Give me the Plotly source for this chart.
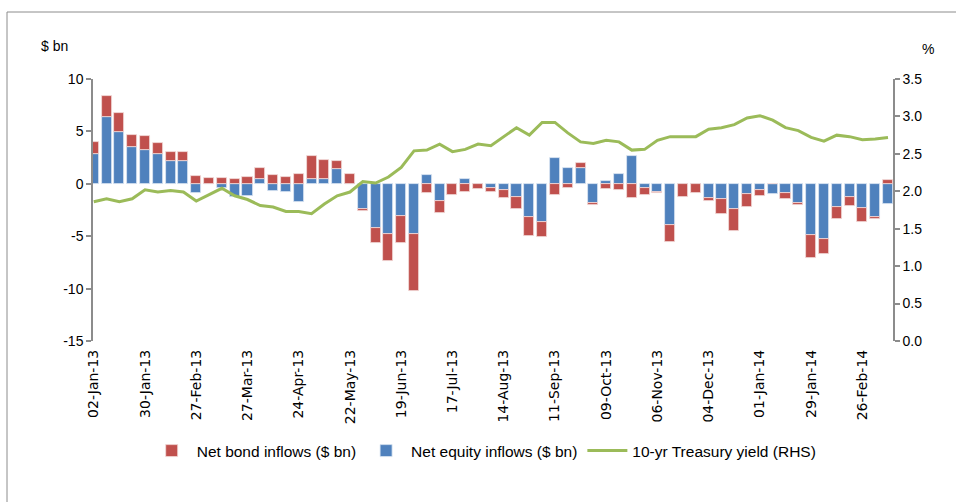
import pandas as pd
import plotly.graph_objects as go

weeks = pd.date_range("2013-01-02", periods=63, freq="7D")

equity = [2.8, 6.4, 4.9, 3.5, 3.2, 2.85, 2.15, 2.15, -0.9, 0.0,
          -0.42, -1.3, -1.15, 0.48, -0.67, -0.77, -1.76, 0.45, 0.42, 1.41,
          0.0, -2.45, -4.26, -4.8, -3.08, -4.8, 0.87, -1.6, 0.0, 0.45,
          0.0, -0.38, -0.58, -1.28, -3.14, -3.65, 2.47, 1.47, 1.47, -1.8,
          0.22, 0.96, 2.63, -0.42, -0.74, -3.97, 0.0, 0.0, -1.31, -1.44,
          -2.4, -0.93, -0.58, -0.99, -0.9, -1.86, -4.9, -5.29, -2.24, -1.28,
          -2.27, -3.14, -1.96]

bond = [1.15, 2.0, 1.83, 1.2, 1.37, 1.06, 0.93, 0.9, 0.7, 0.6,
        0.51, 0.42, 0.67, 0.99, 0.83, 0.67, 0.9, 2.18, 1.89, 0.8,
        0.96, -0.1, -1.38, -2.53, -2.56, -5.45, -0.9, -1.16, -1.06, -0.74,
        -0.51, -0.36, -0.73, -1.16, -1.86, -1.41, -1.06, -0.42, 0.52, -0.2,
        -0.51, -0.58, -1.31, -0.61, -0.09, -1.63, -1.22, -0.9, -0.32, -1.48,
        -2.15, -1.25, -0.57, 0.0, -0.54, -0.19, -2.18, -1.44, -1.13, -0.84,
        -1.38, -0.23, 0.38]

yield10 = [1.86, 1.90, 1.86, 1.90, 2.02, 1.99, 2.01, 1.99, 1.87, 1.96,
           2.04, 1.94, 1.89, 1.81, 1.79, 1.73, 1.73, 1.70, 1.83, 1.94,
           1.99, 2.13, 2.11, 2.19, 2.32, 2.54, 2.55, 2.63, 2.53, 2.56,
           2.63, 2.61, 2.73, 2.85, 2.75, 2.92, 2.92, 2.78, 2.66, 2.64,
           2.68, 2.66, 2.55, 2.56, 2.68, 2.73, 2.73, 2.73, 2.83, 2.85,
           2.89, 2.98, 3.01, 2.95, 2.85, 2.81, 2.72, 2.67, 2.75, 2.73,
           2.69, 2.70, 2.72]

left_ticks = [-15, -10, -5, 0, 5, 10]
left_labels = ["-15", "-10", "-5", "0", "5", "10"]
right_ticks = [0, 0.5, 1.0, 1.5, 2.0, 2.5, 3.0, 3.5]
right_labels = ["0.0", "0.5", "1.0", "1.5", "2.0", "2.5", "3.0", "3.5"]

RED = "#C0504D"
BLUE = "#4F81BD"
GREEN = "#9BBB59"
AXIS = "#8C8C8C"
NUMFONT = dict(family="Liberation Sans, Arial", size=14, color="#000000")
XFONT = dict(family="DejaVu Sans, Verdana", size=14, color="#000000")
LEGFONT = dict(family="Liberation Sans, Arial", size=15.5, color="#000000")

DAY = 86400000
xrange = ["2013-01-01 14:00", "2014-03-14 17:30"]

fig = go.Figure()
fig.add_trace(go.Bar(x=weeks, y=equity, name="Net equity inflows ($ bn)",
                     marker=dict(color=BLUE, line=dict(color="#DCE6F2", width=0.8)),
                     width=5.5 * DAY, legendrank=2))
fig.add_trace(go.Bar(x=weeks, y=bond, name="Net bond inflows ($ bn)",
                     marker=dict(color=RED, line=dict(color="#F2DCDB", width=0.8)),
                     width=5.5 * DAY, legendrank=1))
fig.add_trace(go.Scatter(x=weeks, y=yield10, name="10-yr Treasury yield (RHS)",
                         mode="lines", line=dict(color=GREEN, width=3),
                         yaxis="y2", legendrank=3))

fig.update_layout(
    width=956, height=502,
    margin=dict(l=93, r=63, t=79, b=161),
    paper_bgcolor="white", plot_bgcolor="white",
    barmode="relative", bargap=0,
    showlegend=True,
    legend=dict(orientation="h", x=0.489, xanchor="center", y=-0.42, yanchor="middle",
                font=LEGFONT, itemwidth=40, tracegroupgap=0),
    xaxis=dict(type="date", range=xrange, tick0="2013-01-02", dtick=28 * DAY,
               tickformat="%d-%b-%y", tickangle=-90, tickfont=XFONT,
               ticklabelstandoff=5,
               showgrid=False, showline=False, ticks="", zeroline=False),
    xaxis2=dict(type="date", range=xrange, overlaying="x", anchor="free", position=0.6,
                tick0="2013-01-02", dtick=7 * DAY, showticklabels=False,
                ticks="outside", ticklen=5, tickcolor=AXIS, tickwidth=1.5,
                showline=True, linecolor=AXIS, linewidth=1.5, showgrid=False,
                zeroline=False, layer="above traces"),
    yaxis=dict(range=[-15, 10], tickvals=left_ticks, ticktext=left_labels, tickfont=NUMFONT,
               showgrid=False, zeroline=False, showline=True, linecolor=AXIS, linewidth=1.5,
               ticks="outside", ticklen=5, tickcolor=AXIS, tickwidth=1.5),
    yaxis2=dict(range=[0, 3.5], tickvals=right_ticks, ticktext=right_labels,
                overlaying="y", side="right",
                tickfont=NUMFONT, showgrid=False, zeroline=False, showline=True,
                linecolor=AXIS, linewidth=1.5, ticks="outside", ticklen=5,
                tickcolor=AXIS, tickwidth=1.5),
    annotations=[
        dict(text="$ bn", xref="paper", yref="paper", x=-0.04875, y=1.126,
             showarrow=False, font=NUMFONT, xanchor="center", yanchor="middle"),
        dict(text="%", xref="paper", yref="paper", x=1.044, y=1.1145,
             showarrow=False, font=NUMFONT, xanchor="center", yanchor="middle"),
    ],
    shapes=[dict(type="rect", xref="paper", yref="paper", x0=-0.1075, x1=1.09,
                 y0=-0.7, y1=1.2557, line=dict(color="#8C8C8C", width=1),
                 fillcolor="rgba(0,0,0,0)", layer="below")],
)

fig.write_html("out.html", config={"displayModeBar": False},
               post_script="document.body.style.margin='0px';")
